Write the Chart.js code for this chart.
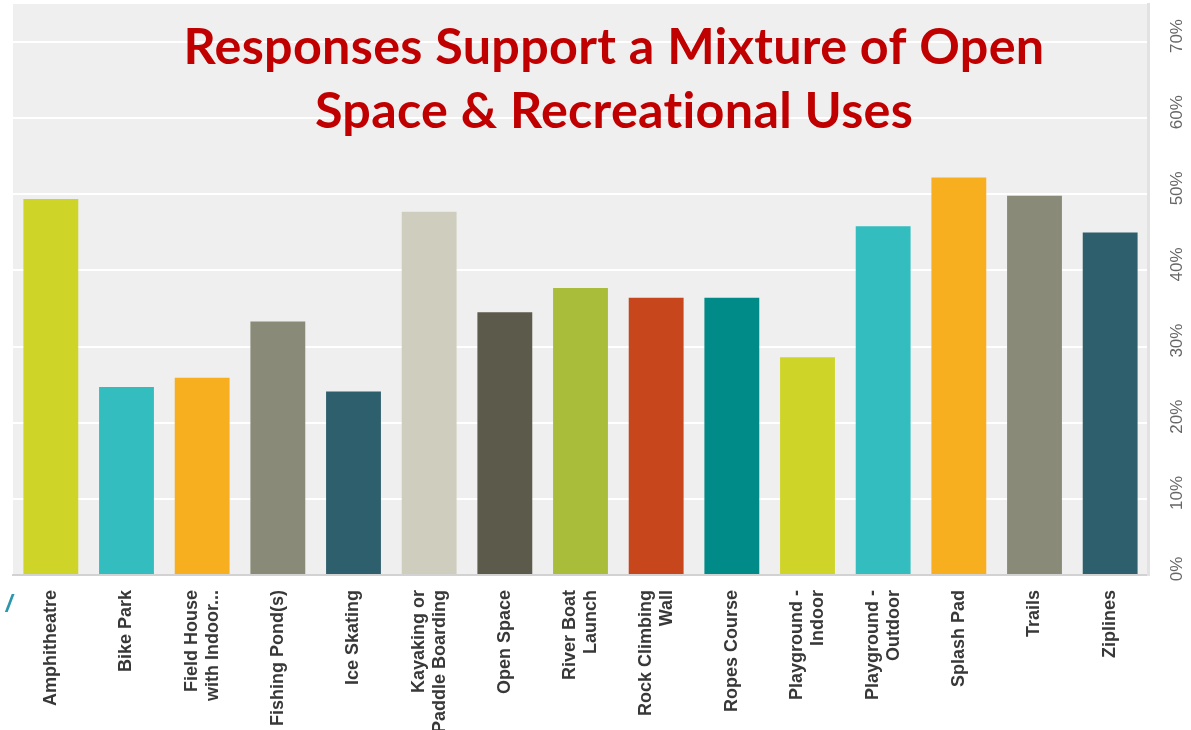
<!DOCTYPE html>
<html>
<head>
<meta charset="utf-8">
<script src="https://cdn.jsdelivr.net/npm/chart.js@4/dist/chart.umd.min.js"></script>
<style>
  html, body { margin: 0; padding: 0; background: #ffffff; }
  #wrap { position: relative; width: 1191px; height: 730px; }
</style>
</head>
<body>
<div id="wrap"><canvas id="c" width="1191" height="730"></canvas></div>
<script>
const categories = [
  'Amphitheatre', 'Bike Park', ['Field House', 'with Indoor...'], 'Fishing Pond(s)', 'Ice Skating',
  ['Kayaking or', 'Paddle Boarding'], 'Open Space', ['River Boat', 'Launch'], ['Rock Climbing', 'Wall'],
  'Ropes Course', ['Playground -', 'Indoor'], ['Playground -', 'Outdoor'], 'Splash Pad', 'Trails', 'Ziplines'
];
const values = [49.4, 24.7, 25.9, 33.3, 24.1, 47.7, 34.5, 37.7, 36.4, 36.4, 28.6, 45.8, 52.2, 49.8, 45.0];
const barColors = [
  '#CFD428', '#33BDBF', '#F7AF20', '#8A8A78', '#2E5F6C', '#CFCEBE', '#5C5A4A', '#AABD3A',
  '#C8461B', '#008A88', '#CFD428', '#33BDBF', '#F7AF20', '#8A8A78', '#2E5F6C'
];
const yTickValues = [0, 10, 20, 30, 40, 50, 60, 70];
const yTickLabels = ['0%', '10%', '20%', '30%', '40%', '50%', '60%', '70%'];
const titleLines = ['Responses Support a Mixture of Open', 'Space & Recreational Uses'];

const decor = {
  id: 'decor',
  beforeDraw(chart) {
    const { ctx, chartArea: a } = chart;
    ctx.save();
    ctx.fillStyle = '#efefef';
    ctx.fillRect(a.left, a.top, a.right - a.left, a.bottom - a.top);
    ctx.restore();
  },
  afterDraw(chart) {
    const { ctx } = chart;
    const y = chart.scales.y;
    const x = chart.scales.x;

    // category labels, rotated, each block centred on its tick
    ctx.save();
    ctx.fillStyle = '#383838';
    ctx.font = 'bold 18px "Liberation Sans", Arial, sans-serif';
    ctx.textAlign = 'right';
    ctx.textBaseline = 'middle';
    const lineH = 21;
    categories.forEach((lab, i) => {
      const lines = Array.isArray(lab) ? lab : [lab];
      const px = x.getPixelForTick(i);
      lines.forEach((ln, j) => {
        const off = (j - (lines.length - 1) / 2) * lineH;
        ctx.save();
        ctx.translate(px + off, 590);
        ctx.rotate(-Math.PI / 2);
        ctx.fillText(ln, 0, 0);
        ctx.restore();
      });
    });
    ctx.restore();

    // right-hand rotated percentage labels
    ctx.save();
    ctx.fillStyle = '#666666';
    ctx.font = '17px "Liberation Sans", Arial, sans-serif';
    ctx.textAlign = 'center';
    ctx.textBaseline = 'middle';
    yTickValues.forEach((v, i) => {
      const py = y.getPixelForValue(v) - 6;
      ctx.save();
      ctx.translate(1177, py);
      ctx.rotate(-Math.PI / 2);
      ctx.fillText(yTickLabels[i], 0, 0);
      ctx.restore();
    });
    ctx.restore();

    // title
    ctx.save();
    ctx.fillStyle = '#C00000';
    ctx.textAlign = 'center';
    ctx.textBaseline = 'alphabetic';
    try { ctx.letterSpacing = '0.3px'; } catch (e) {}
    let size = 46;
    ctx.font = 'bold ' + size + 'px Lato, "Open Sans", sans-serif';
    const w = ctx.measureText(titleLines[0]).width;
    size = size * 862 / w;
    ctx.font = 'bold ' + size.toFixed(2) + 'px Lato, "Open Sans", sans-serif';
    ctx.fillText(titleLines[0], 614, 64);
    ctx.fillText(titleLines[1], 614, 128);
    ctx.restore();

    // small stray mark at the lower left
    ctx.save();
    ctx.fillStyle = '#2A97AE';
    ctx.font = 'bold italic 24px "Liberation Sans", Arial, sans-serif';
    ctx.textAlign = 'center';
    ctx.textBaseline = 'middle';
    ctx.fillText('/', 9, 605);
    ctx.restore();
  }
};

new Chart(document.getElementById('c'), {
  type: 'bar',
  data: {
    labels: categories,
    datasets: [{
      data: values,
      backgroundColor: barColors,
      borderWidth: 0,
      barPercentage: 0.725,
      categoryPercentage: 1.0
    }]
  },
  options: {
    responsive: false,
    animation: false,
    devicePixelRatio: 1,
    layout: { padding: { left: 13, top: 4, right: 0, bottom: 0 } },
    plugins: { legend: { display: false }, tooltip: { enabled: false }, title: { display: false } },
    scales: {
      x: {
        grid: { display: false, drawTicks: false },
        border: { display: true, color: '#d2d2d2', width: 2 },
        ticks: { display: false, autoSkip: false },
        afterFit(s) { s.height = 155; }
      },
      y: {
        position: 'right',
        min: 0,
        max: 75,
        ticks: { display: false, stepSize: 10 },
        grid: {
          drawTicks: false,
          lineWidth: 2,
          color: (c) => (c.tick && c.tick.value % 10 === 0 && c.tick.value > 0) ? '#ffffff' : 'rgba(0,0,0,0)'
        },
        border: { display: true, color: '#e2e2e2', width: 3 },
        afterFit(s) { s.width = 43; }
      }
    }
  },
  plugins: [decor]
});
</script>
</body>
</html>
